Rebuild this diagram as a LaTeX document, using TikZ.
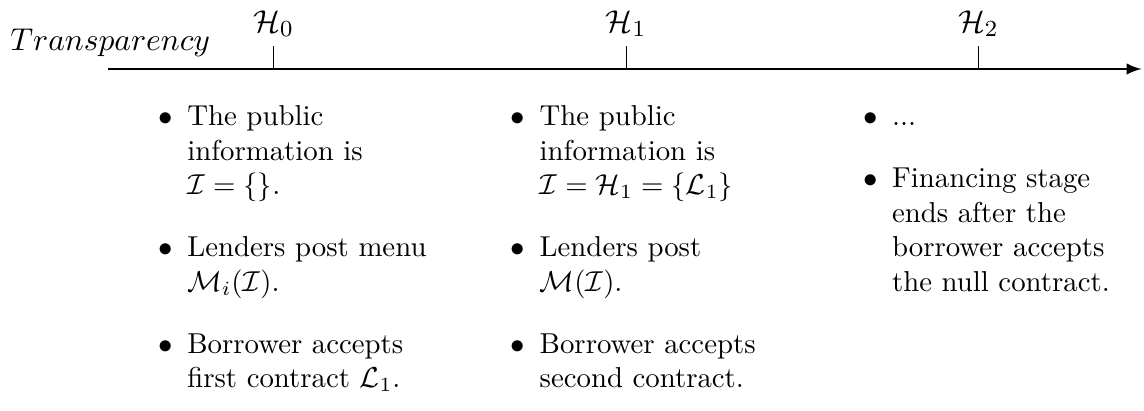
\documentclass[tikz,border=0pt]{standalone}
\usetikzlibrary{positioning}

\tikzset{
  stage/.style={anchor=north west, text width=110.5pt, align=left, inner sep=0pt},
  stamp/.style={above, inner sep=3pt, font=\fontsize{11}{13}\selectfont},
}
\renewcommand{\labelitemi}{$\bullet$}
\newcommand{\stagelist}[1]{\begin{itemize}\setlength{\itemsep}{5.5pt}#1\end{itemize}}

\begin{document}
\begin{tikzpicture}
  \useasboundingbox (0,0.842) rectangle (13.96,-4.17);
  % time line
  \coordinate (t start) at (1.32,0);
  \coordinate (t end) at (13.93,0);
  \draw[thick, -latex] (t start) -- (t end);
  \node[anchor=base west, inner sep=0pt, font=\fontsize{11}{13}\selectfont] (transp) at (0.12,0.23) {$Transparency$};
  \foreach \i/\x in {0/3.34,1/7.64,2/11.94} {
    \coordinate (t\i) at (\x,0);
    \draw (t\i) -- ++(0,0.28) node[stamp] (h\i) {$\mathcal{H}_\i$};
  }
  % what happens at each stage
  \node[stage] (s0) at ([shift={(-1.94,0.02)}]t0) {\stagelist{
    \item The public information is $\mathcal{I}=\{\}$.
    \item Lenders post menu $\mathcal{M}_i(\mathcal{I})$.
    \item Borrower accepts first contract $\mathcal{L}_1$.}};
  \node[stage] (s1) at ([shift={(-1.94,0.02)}]t1) {\stagelist{
    \item The public information is $\mathcal{I}=\mathcal{H}_1=\{\mathcal{L}_1\}$
    \item Lenders post $\mathcal{M}(\mathcal{I})$.
    \item Borrower accepts second contract.}};
  \node[stage] (s2) at ([shift={(-1.94,0.02)}]t2) {\stagelist{
    \item ...
    \item Financing stage ends after the borrower accepts the null contract.}};
\end{tikzpicture}
\end{document}
